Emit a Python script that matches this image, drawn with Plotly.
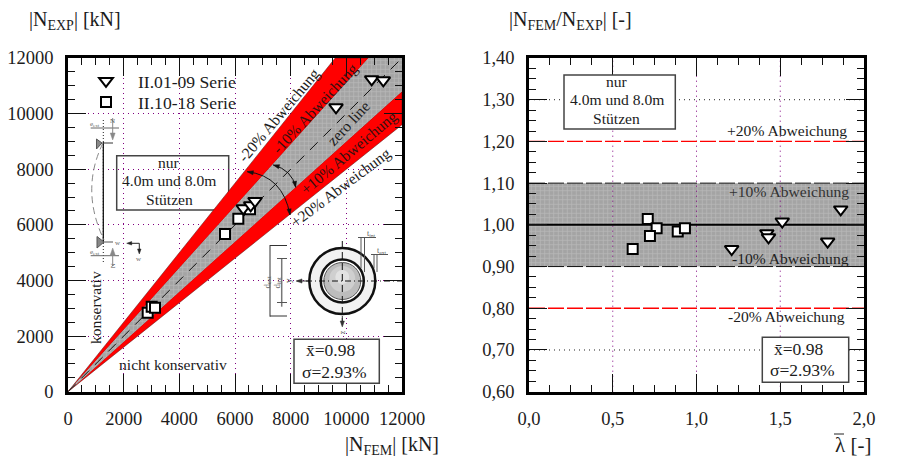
import plotly.graph_objects as go

# The page adds an 8 px body margin, so the figure fills the rest of the 907x473 window.
PAGE_MARGIN = 8
W, H = 907 - PAGE_MARGIN, 473 - PAGE_MARGIN
FONT = "Liberation Serif"
INK = "#1c1c1c"

# ---------- data ----------
tri_fem = [10911, 11328, 9629, 6298, 6564, 6719]
tri_exp = [11234, 11198, 10227, 6595, 6703, 6858]
sq_fem = [5641, 6119, 6539, 2863, 3007, 3126]
sq_exp = [5671, 6221, 6559, 2841, 3057, 3021]

tri_lambda = [1.21, 1.42, 1.43, 1.512, 1.861, 1.783]
tri_ratio = [0.942, 0.98, 0.97, 1.008, 1.037, 0.96]
sq_lambda = [0.709, 0.762, 0.722, 0.888, 0.931, 0.619]
sq_ratio = [1.014, 0.992, 0.973, 0.984, 0.992, 0.942]

left_ticks = [0, 2000, 4000, 6000, 8000, 10000, 12000]
left_labels = ["0", "2000", "4000", "6000", "8000", "10000", "12000"]
right_x_ticks = [0.0, 0.5, 1.0, 1.5, 2.0]
right_x_labels = ["0,0", "0,5", "1,0", "1,5", "2,0"]
right_y_ticks = [0.6, 0.7, 0.8, 0.9, 1.0, 1.1, 1.2, 1.3, 1.4]
right_y_labels = ["0,60", "0,70", "0,80", "0,90", "1,00", "1,10", "1,20", "1,30", "1,40"]

AXMAX = 12000
band_outer = 0.8
band_inner = 0.9
ratio_20 = [0.8, 1.2]
ratio_10 = [0.9, 1.1]
ratio_hgrid = [0.7, 1.3]
lambda_vgrid = [0.5, 1.0, 1.5]
xr_right = [0.0, 2.0]

# ---------- layout geometry (window pixels) ----------
L = dict(x0=68, x1=402, y0=391.7, y1=58)
R = dict(x0=529, x1=864, y0=391.7, y1=58)


def fx(x):
    return (x - PAGE_MARGIN) / W


def fy(y):
    return 1 - (y - PAGE_MARGIN) / H


def lx(px):
    return (px - L["x0"]) / (L["x1"] - L["x0"]) * AXMAX


def ly(py):
    return (L["y0"] - py) / (L["y0"] - L["y1"]) * AXMAX


def path(*cmds):
    """SVG path from pixel commands -> paper coordinates."""
    out = []
    for c in cmds:
        op, pts = c[0], c[1:]
        out.append(op + " ".join(f"{fx(pts[i]):.5f},{fy(pts[i+1]):.5f}" for i in range(0, len(pts), 2)))
    return " ".join(out)


shapes = []
annos = []


def text(x, y, s, size=15.6, angle=0, color=INK, anchor="center"):
    annos.append(dict(xref="paper", yref="paper", x=fx(x), y=fy(y), text=s, showarrow=False,
                      xanchor=anchor, yanchor="middle", textangle=angle,
                      font=dict(family=FONT, size=size, color=color)))


def seg(x0, y0, x1, y1, color="#222", width=1, dash="solid"):
    shapes.append(dict(type="line", xref="paper", yref="paper", x0=fx(x0), y0=fy(y0), x1=fx(x1), y1=fy(y1),
                       line=dict(color=color, width=width, dash=dash), layer="above"))


def curve(d, color="#222", width=1, dash="solid", fill=None):
    shapes.append(dict(type="path", xref="paper", yref="paper", path=d, layer="above",
                       line=dict(color=color, width=width, dash=dash),
                       fillcolor=fill if fill else "rgba(0,0,0,0)"))


def disc(cx, cy, r, fill, lw=0, lc="#000"):
    shapes.append(dict(type="circle", xref="paper", yref="paper", layer="above",
                       x0=fx(cx - r), x1=fx(cx + r), y0=fy(cy + r), y1=fy(cy - r),
                       fillcolor=fill, line=dict(color=lc, width=lw)))


def head(x, y, dx, dy, color="#111", size=6):
    """small arrow head with tip at x,y, pointing along dx,dy (unit)."""
    bx, by = x - dx * size, y - dy * size
    nx, ny = -dy * size * 0.35, dx * size * 0.35
    curve(path(("M", x, y), ("L", bx + nx, by + ny), ("L", bx - nx, by - ny)) + " Z", color=color, width=0.5, fill=color)


def box_paper(x0, y0, x1, y1):
    shapes.append(dict(type="rect", xref="paper", yref="paper", layer="above",
                       x0=fx(x0), x1=fx(x1), y0=fy(y1), y1=fy(y0),
                       fillcolor="white", line=dict(color="#444", width=1.5)))


# ---------- figure ----------
fig = go.Figure()
hatch = dict(shape="+", bgcolor="#a4a4a4", fgcolor="#cccccc", size=4.5, solidity=0.3)

# left: bands
xt_o, xt_i = AXMAX * band_outer, AXMAX * band_inner
band_edge = dict(color="#501010", width=0.5)
fig.add_trace(go.Scatter(x=[0, xt_o, xt_i, 0], y=[0, AXMAX, AXMAX, 0], fill="toself", fillcolor="#ff0000",
                         mode="lines", line=band_edge, showlegend=False, xaxis="x", yaxis="y", hoverinfo="skip"))
fig.add_trace(go.Scatter(x=[0, AXMAX, AXMAX, 0], y=[0, xt_i, xt_o, 0], fill="toself", fillcolor="#ff0000",
                         mode="lines", line=band_edge, showlegend=False, xaxis="x", yaxis="y", hoverinfo="skip"))
fig.add_trace(go.Scatter(x=[0, xt_i, AXMAX, AXMAX, 0], y=[0, AXMAX, AXMAX, xt_i, 0], fill="toself",
                         fillpattern=hatch, fillcolor="#a4a4a4", mode="lines", line=dict(width=0),
                         showlegend=False, xaxis="x", yaxis="y", hoverinfo="skip"))
fig.add_trace(go.Scatter(x=[0, AXMAX], y=[0, AXMAX], mode="lines", line=dict(color="#111", width=1, dash="11px,8px"),
                         showlegend=False, xaxis="x", yaxis="y", hoverinfo="skip"))

tri_marker = dict(symbol="triangle-down", size=12, color="white", line=dict(color="black", width=2))
sq_marker = dict(symbol="square", size=10, color="white", line=dict(color="black", width=2))
fig.add_trace(go.Scatter(x=sq_fem, y=sq_exp, mode="markers", marker=sq_marker, name="II.10-18 Serie",
                         xaxis="x", yaxis="y", legend="legend2"))
fig.add_trace(go.Scatter(x=tri_fem, y=tri_exp, mode="markers", marker=tri_marker, name="II.01-09 Serie",
                         xaxis="x", yaxis="y", legend="legend"))

# right: band + grid + reference lines
fig.add_trace(go.Scatter(x=[xr_right[0], xr_right[1], xr_right[1], xr_right[0], xr_right[0]],
                         y=[ratio_10[0], ratio_10[0], ratio_10[1], ratio_10[1], ratio_10[0]],
                         fill="toself", fillpattern=hatch, fillcolor="#a4a4a4", mode="lines", line=dict(width=0),
                         showlegend=False, xaxis="x2", yaxis="y2", hoverinfo="skip"))
for v in lambda_vgrid:
    fig.add_trace(go.Scatter(x=[v, v], y=[right_y_ticks[0], right_y_ticks[-1]], mode="lines",
                             line=dict(color="#800080", width=1, dash="1px,4px"),
                             showlegend=False, xaxis="x2", yaxis="y2", hoverinfo="skip"))
for v in ratio_hgrid:
    fig.add_trace(go.Scatter(x=xr_right, y=[v, v], mode="lines", line=dict(color="#222", width=1, dash="1px,4px"),
                             showlegend=False, xaxis="x2", yaxis="y2", hoverinfo="skip"))
for v in ratio_20:
    fig.add_trace(go.Scatter(x=xr_right, y=[v, v], mode="lines", line=dict(color="#ff0000", width=1.3, dash="16px,3px"),
                             showlegend=False, xaxis="x2", yaxis="y2", hoverinfo="skip"))
for v in ratio_10:
    fig.add_trace(go.Scatter(x=xr_right, y=[v, v], mode="lines", line=dict(color="#111", width=1, dash="16px,3px"),
                             showlegend=False, xaxis="x2", yaxis="y2", hoverinfo="skip"))
fig.add_trace(go.Scatter(x=xr_right, y=[1.0, 1.0], mode="lines", line=dict(color="#000", width=2),
                         showlegend=False, xaxis="x2", yaxis="y2", hoverinfo="skip"))
fig.add_trace(go.Scatter(x=tri_lambda, y=tri_ratio, mode="markers", marker=tri_marker, showlegend=False,
                         xaxis="x2", yaxis="y2"))
fig.add_trace(go.Scatter(x=sq_lambda, y=sq_ratio, mode="markers", marker=sq_marker, showlegend=False,
                         xaxis="x2", yaxis="y2"))

# ---------- boxes ----------
shapes.append(dict(type="rect", xref="x", yref="y", layer="below", x0=lx(116.7), x1=lx(228.7), y0=ly(210), y1=ly(155.7),
                   fillcolor="white", line=dict(color="#444", width=1.5)))
for yy, s in zip((162, 180.5, 199), ("nur", "4.0m und 8.0m", "Stützen")):
    text(169, yy, s)
box_paper(564, 75, 675.3, 129)
for yy, s in zip((81, 99.5, 118), ("nur", "4.0m und 8.0m", "Stützen")):
    text(616.7, yy, s)
box_paper(294, 339.3, 379.3, 383.3)
text(330, 350, "x\u0304=0.98", 17.5)
text(334, 372, "σ=2.93%", 17.5)
box_paper(762.3, 337.3, 848.7, 382.3)
text(798.3, 348.5, "x\u0304=0.98", 17.5)
text(802.7, 370, "σ=2.93%", 17.5)

# ---------- labels: left ----------
text(278, 115, "-20% Abweichung", angle=-50)
text(315, 109, "-10% Abweichung", angle=-47, color="#331010")
text(348, 123, "zero line", angle=-47)
text(349, 153, "+10% Abweichung", angle=-40, color="#331010")
text(340, 187, "+20% Abweichung", angle=-37)
text(173.3, 364, "nicht konservativ")
text(95, 308, "konservativ", angle=-90)

# ---------- labels: right ----------
text(786.7, 130.7, "+20% Abweichung")
text(789.3, 191, "+10% Abweichung", color="#333")
text(790, 258.3, "-10% Abweichung", color="#222")
text(786.7, 316.7, "-20% Abweichung")

# ---------- axis titles ----------
text(27, 21, "|N<sub>EXP</sub>| [kN]", 20, anchor="left")
text(343, 445, "|N<sub>FEM</sub>| [kN]", 20, anchor="left")
text(506.5, 21, "|N<sub>FEM</sub>/N<sub>EXP</sub>| [-]", 20, anchor="left")
text(833, 445, "\u03bb [-]", 21, anchor="left")
seg(834, 434, 844, 434, "#222", 1)

# ---------- arcs with arrow heads ----------
curve(path(("M", 247.3, 171.7), ("Q", 283, 176, 290, 215)), color="#111", width=1)
head(247.3, 171.7, -0.98, -0.18)
head(290, 215, 0.15, 0.99)
curve(path(("M", 273.3, 165), ("Q", 292, 170, 295.7, 187.3)), color="#111", width=1)
head(273.3, 165, -0.96, -0.28)
head(295.7, 187.3, 0.2, 0.98)

# ---------- cross-section sketch ----------
CX, CY = 342.3, 281
disc(CX, CY, 33, "#f2f2f2", 2.5, "#111")
disc(CX, CY, 21.5, "#ffffff", 2.5, "#111")
disc(CX, CY, 18.5, "#bcbcbc", 1, "#555")
disc(CX, CY - 2, 13, "#cfcfcf")
disc(CX, CY - 4, 7, "#e2e2e2")
seg(306, CY, 402, CY, "#111", 1, "6px,3px,1px,3px")
seg(CX, 241, CX, 322, "#111", 1, "7px,4px")
seg(308, CY, 297, CY, "#333", 1)
head(296, CY, -1, 0, "#333", 6)
seg(CX, 316, CX, 325, "#333", 1)
head(CX, 327, 0, 1, "#333", 6)
text(288, CY, "y", 9, -90, "#444")
text(CX, 332, "z", 8, -90, "#444")
# diameters
seg(270, 245, 270, 316.7, "#333", 1)
seg(270, 245.5, 287, 245.5, "#333", 1)
seg(270, 316, 287, 316, "#333", 1)
seg(281.7, 258, 281.7, 306.7, "#777", 1.5)
seg(277, 258.5, 287, 258.5, "#555", 1)
seg(277, 302.5, 287, 302.5, "#555", 1)
text(266.5, 283, "d<sub>ext</sub>", 9, -90, "#555")
text(276.5, 283, "d<sub>int</sub>", 9, -90, "#555")
# thicknesses
seg(361, 237, 361, 268, "#555", 1)
seg(364.5, 237, 364.5, 272, "#555", 1)
seg(358, 237.5, 376, 237.5, "#555", 1)
text(371, 234, "t<sub>int</sub>", 8, 0, "#555")
seg(374, 254, 374, 268, "#555", 1)
seg(377, 254, 377, 272, "#555", 1)
seg(371, 254.5, 388, 254.5, "#555", 1)
text(381.5, 250.5, "t<sub>ext</sub>", 8, 0, "#555")

# ---------- column sketch ----------
seg(103.3, 120, 103.3, 263, "#222", 1, "1px,2px")
seg(103.3, 142, 103.3, 242, "#111", 1.3)
curve(path(("M", 103, 143), ("Q", 80, 190, 104, 240)), color="#888", width=1, dash="7px,4px")
# top
seg(90.7, 128, 119, 128, "#666", 1)
seg(112.7, 118, 112.7, 133, "#888", 1)
head(112.7, 140, 0, 1, "#888", 7)
curve(path(("M", 102, 143), ("L", 96.5, 139), ("L", 96.5, 149)) + " Z", color="#555", width=1, fill="#888")
seg(103, 143, 113, 143, "#333", 1)
text(112.5, 120.5, "N", 7, 0, "#555")
text(95, 124.5, "e<sub>ext</sub>", 7, 0, "#666")
# bottom
curve(path(("M", 104, 242), ("L", 97, 236.5), ("L", 97, 248)) + " Z", color="#555", width=1, fill="#888")
seg(103, 242, 113, 242, "#555", 1)
seg(90.7, 255.7, 119, 255.7, "#666", 1)
seg(112.7, 252, 112.7, 266, "#888", 1)
head(112.7, 248, 0, -1, "#888", 7)
text(112.7, 265.5, "N", 7, -90, "#555")
text(95, 251.5, "e<sub>ext</sub>", 7, 0, "#666")
# local axes
text(118, 242.5, "w", 7, 0, "#666")
seg(130, 243.3, 139.3, 243.3, "#222", 1)
head(126.7, 243.3, -1, 0, "#222", 5)
seg(139.3, 243.3, 139.3, 250, "#222", 1)
head(139.3, 254, 0, 1, "#222", 5)
text(139.3, 258.5, "w", 7, 0, "#666")

# ---------- axes ----------
tickfont = dict(family=FONT, size=18.5, color=INK)
common = dict(showline=True, linecolor="black", linewidth=2.5, mirror="allticks", ticks="inside", ticklen=18,
              tickwidth=1, tickcolor="#111", zeroline=False, tickfont=tickfont, ticklabelstandoff=8, automargin=False)
grid = dict(showgrid=True, gridcolor="#800080", gridwidth=1, griddash="1px,4px")
left_minor = dict(dtick=500, ticks="inside", ticklen=7, tickwidth=1, tickcolor="#111", showgrid=False)
legend_style = dict(xanchor="left", yanchor="top", bgcolor="rgba(0,0,0,0)", borderwidth=0,
                    font=dict(family=FONT, size=17.6, color=INK), itemwidth=54)

fig.update_layout(
    width=W, height=H,
    margin=dict(l=0, r=0, t=0, b=0),
    paper_bgcolor="white", plot_bgcolor="white",
    font=dict(family=FONT, color=INK),
    shapes=shapes, annotations=annos,
    legend=dict(x=fx(74), y=fy(63), **legend_style),
    legend2=dict(x=fx(74), y=fy(84), **legend_style),
    xaxis=dict(domain=[fx(L["x0"]), fx(L["x1"])], range=[0, AXMAX], anchor="y", tickvals=left_ticks,
               ticktext=left_labels, minor=left_minor, **common, **grid),
    yaxis=dict(domain=[fy(L["y0"]), fy(L["y1"])], range=[0, AXMAX], anchor="x", tickvals=left_ticks,
               ticktext=left_labels, minor=left_minor, **common, **grid),
    xaxis2=dict(domain=[fx(R["x0"]), fx(R["x1"])], range=xr_right, anchor="y2", tickvals=right_x_ticks,
                ticktext=right_x_labels, showgrid=False,
                minor=dict(dtick=0.125, ticks="inside", ticklen=7, tickwidth=1, tickcolor="#111", showgrid=False), **common),
    yaxis2=dict(domain=[fy(R["y0"]), fy(R["y1"])], range=[0.6, 1.4], anchor="x2", tickvals=right_y_ticks,
                ticktext=right_y_labels, showgrid=False,
                minor=dict(dtick=0.025, ticks="inside", ticklen=7, tickwidth=1, tickcolor="#111", showgrid=False), **common),
)

fig.write_html("out.html")
